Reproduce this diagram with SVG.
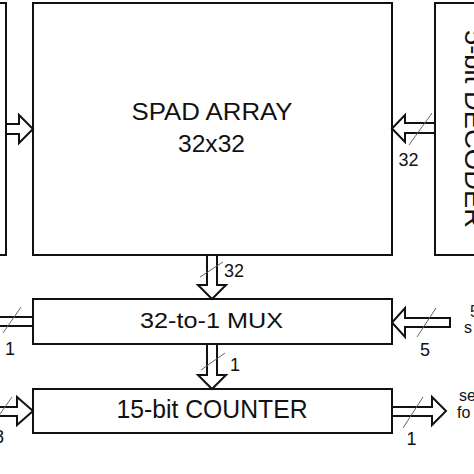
<svg xmlns="http://www.w3.org/2000/svg" width="474" height="474" viewBox="0 0 474 474">
<style>
.box{fill:#fff;stroke:#111;stroke-width:2}
.arr{fill:#fff;stroke:#111;stroke-width:2;stroke-linejoin:miter}
.ln{fill:none;stroke:#111;stroke-width:2}
.sl{stroke:#666;stroke-width:1}
text{font-family:"Liberation Sans",Arial,sans-serif;fill:#111}
.big{font-size:23px}
.lbl{font-size:18px}
.side{font-size:16px}
</style>
<rect width="474" height="474" fill="#fff"/>
<g id="left-block"><rect class="box" x="-10" y="3" width="16" height="252"/></g>
<g id="spad-array">
<rect class="box" x="33" y="3" width="359" height="252"/>
<text class="big" x="212" y="120" text-anchor="middle" textLength="161" lengthAdjust="spacingAndGlyphs">SPAD ARRAY</text>
<text class="big" x="211.5" y="152" text-anchor="middle" textLength="67" lengthAdjust="spacingAndGlyphs">32x32</text>
</g>
<g id="decoder">
<rect class="box" x="435" y="3" width="60" height="252"/>
<text transform="translate(465,129) rotate(90)" x="0" y="0" text-anchor="middle" font-size="25" textLength="198" lengthAdjust="spacingAndGlyphs">5-bit DECODER</text>
</g>
<g id="mux">
<rect class="box" x="33" y="299" width="359" height="45"/>
<text x="211.5" y="328" font-size="22" text-anchor="middle" textLength="143" lengthAdjust="spacingAndGlyphs">32-to-1 MUX</text>
</g>
<g id="counter">
<rect class="box" x="33" y="389" width="359" height="44"/>
<text x="212" y="418" font-size="25" text-anchor="middle" textLength="191" lengthAdjust="spacingAndGlyphs">15-bit COUNTER</text>
</g>
<g id="side-texts">
<text class="side" x="470" y="317">5</text>
<text class="side" x="464" y="333">s</text>
<text class="side" x="459" y="401">se</text>
<text class="side" x="457" y="418">fo</text>
</g>
<g id="connectors">
<polygon class="arr" points="6,124 19,124 19,115 33,129 19,143 19,134 6,134"/>
<polygon class="arr" points="435,123 405,123 405,115 392,128.5 405,142 405,133 435,133"/>
<line class="sl" x1="432" y1="113" x2="409" y2="145"/>
<text class="lbl" x="408.5" y="166" text-anchor="middle">32</text>
<polygon class="arr" points="207,255 207,285 198,285 212,299 226,285 217,285 217,255"/>
<line class="sl" x1="223" y1="262" x2="200" y2="277"/>
<text class="lbl" x="224" y="277">32</text>
<polygon class="arr" points="207,344 207,375 198,375 212,389 226,375 217,375 217,344"/>
<line class="sl" x1="225" y1="353" x2="201" y2="370"/>
<text class="lbl" x="230" y="371">1</text>
<line class="ln" x1="-2" y1="317" x2="33" y2="317"/>
<line class="ln" x1="-2" y1="326" x2="33" y2="326"/>
<line class="sl" x1="21" y1="307" x2="3" y2="333"/>
<text class="lbl" x="10" y="355" text-anchor="middle">1</text>
<polygon class="arr" points="450,318 405,318 405,308 392,322.5 405,337 405,327 450,327"/>
<line class="sl" x1="436" y1="308" x2="417" y2="337"/>
<text class="lbl" x="425" y="356" text-anchor="middle">5</text>
<polygon class="arr" points="-5,407 17,407 17,397 33,411 17,425 17,416 -5,416"/>
<line class="sl" x1="12" y1="397" x2="0" y2="414"/>
<text class="lbl" x="-1" y="443" text-anchor="middle">8</text>
<polygon class="arr" points="392,407 432,407 432,397 446,411 432,425 432,416 392,416"/>
<line class="sl" x1="423" y1="397" x2="403" y2="428"/>
<text class="lbl" x="411.5" y="445" text-anchor="middle">1</text>
</g>
</svg>
